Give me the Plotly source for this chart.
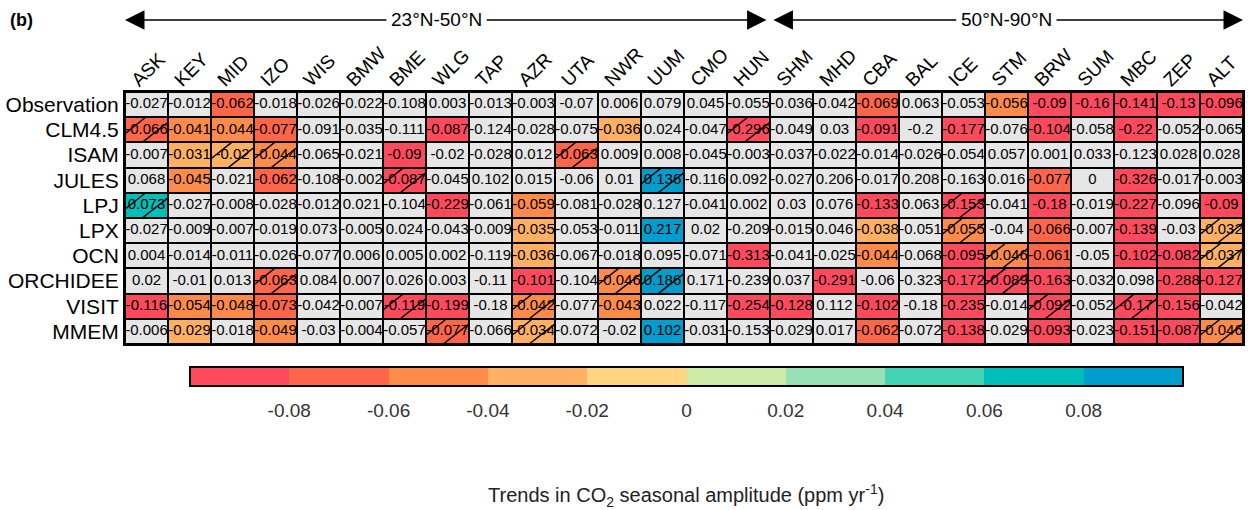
import numpy as np
import plotly.graph_objects as go

stations = ["ASK","KEY","MID","IZO","WIS","BMW","BME","WLG","TAP","AZR","UTA","NWR","UUM",
            "CMO","HUN","SHM","MHD","CBA","BAL","ICE","STM","BRW","SUM","MBC","ZEP","ALT"]
models = ["Observation","CLM4.5","ISAM","JULES","LPJ","LPX","OCN","ORCHIDEE","VISIT","MMEM"]

observation = [-0.027,-0.012,-0.062,-0.018,-0.026,-0.022,-0.108,0.003,-0.013,-0.003,-0.07,0.006,0.079,
               0.045,-0.055,-0.036,-0.042,-0.069,0.063,-0.053,-0.056,-0.09,-0.16,-0.141,-0.13,-0.096]
clm45 = [-0.066,-0.041,-0.044,-0.077,-0.091,-0.035,-0.111,-0.087,-0.124,-0.028,-0.075,-0.036,0.024,
         -0.047,-0.296,-0.049,0.03,-0.091,-0.2,-0.177,-0.076,-0.104,-0.058,-0.22,-0.052,-0.065]
isam = [-0.007,-0.031,-0.0204,-0.044,-0.065,-0.021,-0.09,-0.02,-0.028,0.012,-0.063,0.009,0.008,
        -0.045,-0.003,-0.037,-0.022,-0.014,-0.026,-0.054,0.057,0.001,0.033,-0.123,0.028,0.028]
jules = [0.068,-0.045,-0.021,-0.062,-0.108,-0.002,-0.087,-0.045,0.102,0.015,-0.06,0.01,0.136,
         -0.116,0.092,-0.027,0.206,-0.017,0.208,-0.163,0.016,-0.077,0.0,-0.326,-0.017,-0.003]
lpj = [0.073,-0.027,-0.008,-0.028,-0.012,0.021,-0.104,-0.229,-0.061,-0.059,-0.081,-0.028,0.127,
       -0.041,0.002,0.03,0.076,-0.133,0.063,-0.153,-0.041,-0.18,-0.019,-0.227,-0.096,-0.09]
lpx = [-0.027,-0.009,-0.007,-0.019,0.073,-0.005,0.024,-0.043,-0.009,-0.035,-0.053,-0.011,0.217,
       0.02,-0.209,-0.015,0.046,-0.038,-0.051,-0.055,-0.04,-0.066,-0.007,-0.139,-0.03,-0.032]
ocn = [0.004,-0.014,-0.011,-0.026,-0.077,0.006,0.005,0.002,-0.119,-0.036,-0.067,-0.018,0.095,
       -0.071,-0.313,-0.041,-0.025,-0.044,-0.068,-0.095,-0.046,-0.061,-0.05,-0.102,-0.082,-0.037]
orchidee = [0.02,-0.01,0.013,-0.063,0.084,0.007,0.026,0.003,-0.11,-0.101,-0.104,-0.046,0.186,
            0.171,-0.239,0.037,-0.291,-0.06,-0.323,-0.172,-0.089,-0.163,-0.032,0.098,-0.288,-0.127]
visit = [-0.116,-0.054,-0.048,-0.073,-0.042,-0.007,-0.119,-0.199,-0.18,-0.042,-0.077,-0.043,0.022,
         -0.117,-0.254,-0.128,0.112,-0.102,-0.18,-0.235,-0.014,-0.092,-0.052,-0.17,-0.156,-0.042]
mmem = [-0.006,-0.029,-0.018,-0.049,-0.03,-0.004,-0.057,-0.077,-0.066,-0.034,-0.072,-0.02,0.102,
        -0.031,-0.153,-0.029,0.017,-0.062,-0.072,-0.138,-0.029,-0.093,-0.023,-0.151,-0.087,-0.046]

# significant (coloured) cells per row
significant = {
    "Observation": ["MID","CBA","STM","BRW","SUM","MBC","ZEP","ALT"],
    "CLM4.5": ["ASK","KEY","MID","IZO","WLG","NWR","HUN","CBA","ICE","BRW","MBC"],
    "ISAM": ["KEY","MID","IZO","BME","UTA"],
    "JULES": ["KEY","IZO","BME","UUM","BRW","MBC"],
    "LPJ": ["ASK","WLG","AZR","CBA","ICE","BRW","MBC","ALT"],
    "LPX": ["AZR","UUM","CBA","ICE","BRW","MBC","ALT"],
    "OCN": ["AZR","HUN","CBA","ICE","STM","BRW","MBC","ZEP","ALT"],
    "ORCHIDEE": ["IZO","AZR","NWR","UUM","MHD","ICE","STM","BRW","ZEP","ALT"],
    "VISIT": ["ASK","KEY","MID","IZO","BME","WLG","AZR","NWR","HUN","SHM","CBA","ICE","BRW","MBC","ZEP"],
    "MMEM": ["KEY","IZO","WLG","AZR","UUM","CBA","ICE","BRW","MBC","ZEP","ALT"],
}
# hatched cells per row
hatched = {
    "CLM4.5": ["ASK","HUN"],
    "ISAM": ["MID","IZO","UTA"],
    "JULES": ["BME","UUM"],
    "LPJ": ["ASK","ICE"],
    "LPX": ["ICE","ALT"],
    "OCN": ["STM","ALT"],
    "ORCHIDEE": ["IZO","NWR","UUM","STM"],
    "VISIT": ["BME","AZR","BRW","MBC"],
    "MMEM": ["WLG","AZR","ALT"],
}

cbar_ticks = [-0.08,-0.06,-0.04,-0.02,0,0.02,0.04,0.06,0.08]
cbar_labels = ["-0.08","-0.06","-0.04","-0.02","0","0.02","0.04","0.06","0.08"]
bin_colors = ["#FF4A5E","#FF6549","#FF8B4B","#FFB062","#FFD582",
              "#CDEBA6","#98E1B4","#43D4B6","#00BEB9","#009ECE"]

rows = [observation, clm45, isam, jules, lpj, lpx, ocn, orchidee, visit, mmem]
Z = np.array(rows, dtype=float)
nr, nc = Z.shape

def fmt(v):
    s = f"{v:.3f}".rstrip("0").rstrip(".")
    return "0" if s in ("-0", "") else s

sig_mask = np.zeros_like(Z, dtype=bool)
for m, lst in significant.items():
    for s in lst:
        sig_mask[models.index(m), stations.index(s)] = True
Zc = np.where(sig_mask, Z, np.nan)

# discrete colorscale
cs = []
n = len(bin_colors)
for k, c in enumerate(bin_colors):
    cs.append([k / n, c])
    cs.append([(k + 1) / n, c])

xs = list(range(nc))
ys = list(range(nr))
FONT = "Liberation Sans, Arial"

cb_common = dict(orientation="h", lenmode="pixels", len=993, thickness=19,
                 x=0.5022, xanchor="center", y=-0.0913, yanchor="top", xpad=0, ypad=0,
                 outlinewidth=2, outlinecolor="black", tickvals=cbar_ticks, ticktext=cbar_labels)

fig = go.Figure()
fig.add_trace(go.Heatmap(z=np.zeros_like(Z), x=xs, y=ys, colorscale=[[0, "#E6E6E6"], [1, "#E6E6E6"]],
                         showscale=False, xgap=2, ygap=2, hoverinfo="skip"))
# coloured cells + colour bar (labels pushed down with transparent outside ticks)
fig.add_trace(go.Heatmap(
    z=Zc, x=xs, y=ys, zmin=-0.1, zmax=0.1, colorscale=cs, xgap=2, ygap=2, hoverinfo="skip",
    colorbar=dict(**cb_common, ticks="outside", ticklen=8, tickcolor="rgba(0,0,0,0)",
                  tickfont=dict(size=19, color="#333333", family=FONT))))
# empty overlay that only draws the inside tick marks on the colour bar
fig.add_trace(go.Heatmap(
    z=np.full_like(Z, np.nan), x=xs, y=ys, zmin=-0.1, zmax=0.1, colorscale=cs, hoverinfo="skip",
    colorbar=dict(**cb_common, ticks="inside", ticklen=6, tickcolor="black", tickwidth=1,
                  showticklabels=False)))

# hatching
hx, hy = [], []
segs = [((0.0, 0.35), (0.48, 1.0)), ((0.40, 0.0), (1.0, 0.80))]
for m, lst in hatched.items():
    j = models.index(m)
    for s in lst:
        i = stations.index(s)
        for (u0, v0), (u1, v1) in segs:
            hx += [i - 0.5 + u0, i - 0.5 + u1, None]
            hy += [j + 0.5 - v0, j + 0.5 - v1, None]
fig.add_trace(go.Scatter(x=hx, y=hy, mode="lines", line=dict(color="black", width=1.4),
                         connectgaps=False, hoverinfo="skip", showlegend=False))

# cell text
tx, ty, tt = [], [], []
for j in range(nr):
    for i in range(nc):
        tx.append(i); ty.append(j); tt.append(fmt(Z[j, i]))
fig.add_trace(go.Scatter(x=tx, y=ty, text=tt, mode="text",
                         textfont=dict(size=15, color="black", family=FONT),
                         hoverinfo="skip", showlegend=False))

fig.update_xaxes(range=[-0.5, nc - 0.5], tickvals=xs, ticktext=stations, side="top", tickangle=-45,
                 showgrid=False, zeroline=False, showline=True, mirror=True, linewidth=2, linecolor="black",
                 ticks="", ticklabelshift=-14, ticklabelstandoff=-8,
                 tickfont=dict(size=19, color="black", family=FONT))
fig.update_yaxes(range=[nr - 0.5, -0.5], tickvals=ys, ticktext=models,
                 showgrid=False, zeroline=False, showline=True, mirror=True, linewidth=2, linecolor="black",
                 ticks="", tickfont=dict(size=21, color="black", family=FONT))

ytop = (344 - 20) / 252.0
arrow_common = dict(xref="x", yref="paper", axref="x", ayref="pixel", ay=0, showarrow=True,
                    arrowhead=2, arrowsize=2.6, arrowwidth=1.5, arrowcolor="black",
                    font=dict(size=19, color="black", family=FONT),
                    bgcolor="white", borderpad=4, xanchor="center", yanchor="middle")
fig.add_annotation(text="23°N-50°N", x=-0.5, y=ytop, ax=6.75, **arrow_common)
fig.add_annotation(text="23°N-50°N", x=14.42, y=ytop, ax=6.75, **arrow_common)
fig.add_annotation(text="50°N-90°N", x=14.58, y=ytop, ax=20.0, **arrow_common)
fig.add_annotation(text="50°N-90°N", x=25.5, y=ytop, ax=20.0, **arrow_common)

fig.add_annotation(text="<b>(b)</b>", xref="paper", yref="paper", x=(22 - 125) / 1118.0, y=ytop,
                   xanchor="center", yanchor="middle",
                   showarrow=False, font=dict(size=18, color="black", family=FONT))
fig.add_annotation(text="Trends in CO<sub>2</sub> seasonal amplitude (ppm yr<sup>-1</sup>)",
                   xref="paper", yref="paper", x=(686 - 125) / 1118.0, y=(344 - 495) / 252.0,
                   xanchor="center", yanchor="middle",
                   showarrow=False, font=dict(size=20, color="#222222", family=FONT))

fig.update_layout(width=1253, height=510,
                  margin=dict(l=125, r=10, t=92, b=166, autoexpand=False),
                  plot_bgcolor="black", paper_bgcolor="white", showlegend=False)

fig.write_html("out.html", config={"displayModeBar": False},
               post_script="document.body.style.margin='0';document.body.style.padding='0';")
